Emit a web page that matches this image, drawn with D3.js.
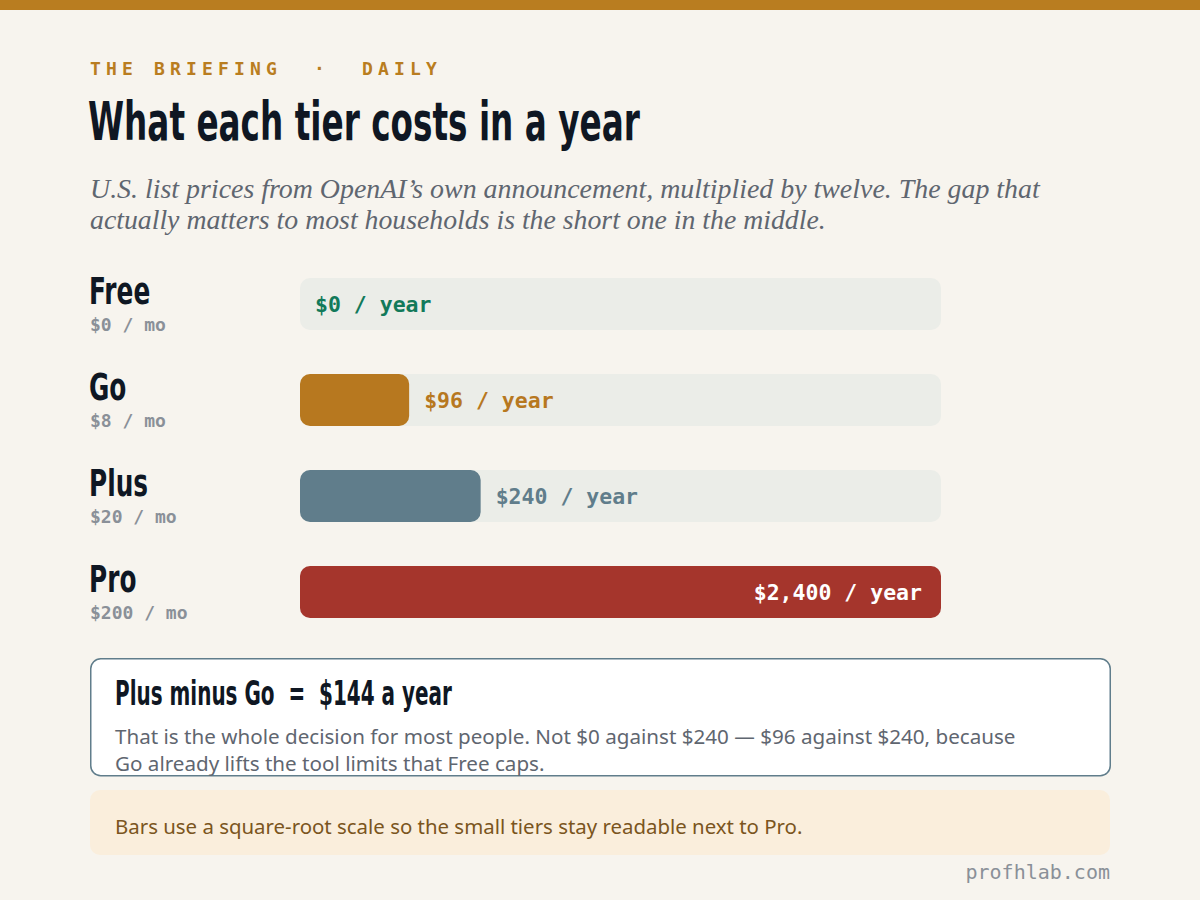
<!DOCTYPE html>
<html>
<head>
<meta charset="utf-8">
<script src="https://cdn.jsdelivr.net/npm/d3@7"></script>
<style>
  html, body { margin: 0; padding: 0; background: #f7f4ee; }
  svg { display: block; }
</style>
</head>
<body>
<svg id="chart" width="1200" height="900"></svg>
<script>
// ---------- data ----------
const tiers = ["Free", "Go", "Plus", "Pro"];
const monthlyPrice = [0, 8, 20, 200];
const annualPrice = [0, 96, 240, 2400];
const monthlyLabels = ["$0 / mo", "$8 / mo", "$20 / mo", "$200 / mo"];
const annualLabels = ["$0 / year", "$96 / year", "$240 / year", "$2,400 / year"];

const kicker = "THE BRIEFING  \u00B7  DAILY";
const title = "What each tier costs in a year";
const subtitleLines = [
  "U.S. list prices from OpenAI\u2019s own announcement, multiplied by twelve. The gap that",
  "actually matters to most households is the short one in the middle."
];
const calloutTitle = "Plus minus Go  =  $144 a year";
const calloutLines = [
  "That is the whole decision for most people. Not $0 against $240 \u2014 $96 against $240, because",
  "Go already lifts the tool limits that Free caps."
];
const noteText = "Bars use a square-root scale so the small tiers stay readable next to Pro.";
const footer = "profhlab.com";

// ---------- styles ----------
const barColor = { Free: "#127a5a", Go: "#b7781f", Plus: "#607d8b", Pro: "#a5352c" };
const labelColor = { Free: "#127a5a", Go: "#b7781f", Plus: "#607d8b", Pro: "#ffffff" };
const COND = "'DejaVu Sans', sans-serif";
const MONO = "'DejaVu Sans Mono', 'Liberation Mono', monospace";
const SERIF = "'Liberation Serif', 'DejaVu Serif', Georgia, serif";
const SANS = "'Noto Sans', 'Open Sans', sans-serif";

const svg = d3.select("#chart");

function fit(sel, w) {
  const n = sel.node();
  const cur = parseFloat(sel.attr("font-size"));
  const len = n.getComputedTextLength();
  if (len > 0) sel.attr("font-size", (cur * w / len).toFixed(2));
  return sel;
}
// condensed heading text: render bold and squeeze horizontally
function condText(parent, x, y, size, txt, sx) {
  const g = parent.append("g").attr("transform", `translate(${x},${y})`);
  const t = g.append("text").attr("font-family", COND).attr("font-weight", "bold")
    .attr("font-size", size).attr("fill", "#0f1723").style("white-space", "pre").text(txt);
  g.attr("transform", `translate(${x},${y}) scale(${sx},1)`);
  return { g, t };
}
function condFit(parent, x, y, size, txt, w) {
  const r = condText(parent, x, y, size, txt, 1);
  const len = r.t.node().getComputedTextLength();
  r.g.attr("transform", `translate(${x},${y}) scale(${w / len},1)`);
  return r;
}

// background + top bar
svg.append("rect").attr("width", 1200).attr("height", 900).attr("fill", "#f7f4ee");
svg.append("rect").attr("width", 1200).attr("height", 10).attr("fill", "#b97d20");

// kicker
svg.append("text").attr("x", 90).attr("y", 75)
  .attr("font-family", MONO).attr("font-weight", "bold").attr("font-size", 18)
  .attr("letter-spacing", 5.16).attr("fill", "#b97d20")
  .style("white-space", "pre").text(kicker);

// title
condFit(svg, 88, 140, 54, title, 552);

// subtitle
subtitleLines.forEach((t, i) => {
  const s = svg.append("text").attr("x", 90).attr("y", 198 + i * 31)
    .attr("font-family", SERIF).attr("font-style", "italic").attr("font-size", 24)
    .attr("fill", "#5f6670").text(t);
  if (i === 0) fit(s, 950);
  else fit(s, 736);
});

// ---------- bars ----------
const trackX = 300, trackW = 641;
const y = d3.scaleBand().domain(tiers).range([278, 618]).paddingInner(44 / 96).paddingOuter(0);
const x = d3.scalePow().exponent(0.55).domain([0, d3.max(annualPrice)]).range([0, trackW]);

const rows = svg.append("g").selectAll("g").data(tiers).join("g")
  .attr("transform", d => `translate(0,${y(d)})`);

rows.each(function(d) {
  condText(d3.select(this), 89, 26, 37, d, 0.67);
});

rows.append("text").attr("x", 90).attr("y", 53)
  .attr("font-family", MONO).attr("font-weight", "bold").attr("font-size", 18)
  .attr("fill", "#8a9098").text((d, i) => monthlyLabels[i]);

rows.append("rect").attr("x", trackX).attr("y", 0)
  .attr("width", trackW).attr("height", y.bandwidth())
  .attr("rx", 10).attr("fill", "#ebede8");

rows.append("rect").attr("x", trackX).attr("y", 0)
  .attr("width", (d, i) => x(annualPrice[i])).attr("height", y.bandwidth())
  .attr("rx", 10).attr("fill", d => barColor[d])
  .attr("display", (d, i) => annualPrice[i] > 0 ? null : "none");

rows.append("text")
  .attr("x", (d, i) => i === tiers.length - 1 ? trackX + x(annualPrice[i]) - 19 : trackX + x(annualPrice[i]) + 15)
  .attr("text-anchor", (d, i) => i === tiers.length - 1 ? "end" : "start")
  .attr("y", y.bandwidth() / 2 + 7.5)
  .attr("font-family", MONO).attr("font-weight", "bold").attr("font-size", 21.5)
  .attr("fill", d => labelColor[d]).style("white-space", "pre")
  .text((d, i) => annualLabels[i]);

// ---------- callout ----------
svg.append("rect").attr("x", 90.75).attr("y", 658.75).attr("width", 1019.5).attr("height", 117)
  .attr("rx", 10).attr("fill", "#ffffff").attr("stroke", "#607d8b").attr("stroke-width", 1.5);
condFit(svg, 115, 705, 33, calloutTitle, 337);
let bodySize = 20;
calloutLines.forEach((t, i) => {
  const s = svg.append("text").attr("x", 115).attr("y", 744 + i * 27)
    .attr("font-family", SANS).attr("font-size", bodySize).attr("fill", "#5f6670").text(t);
  if (i === 0) { fit(s, 901); bodySize = s.attr("font-size"); }
});

// ---------- note ----------
svg.append("rect").attr("x", 90).attr("y", 790).attr("width", 1020).attr("height", 65)
  .attr("rx", 10).attr("fill", "#faeedc");
fit(svg.append("text").attr("x", 115).attr("y", 834)
  .attr("font-family", SANS).attr("font-size", 20).attr("fill", "#7a5520").text(noteText), 688);

// footer
svg.append("text").attr("x", 1110).attr("y", 879).attr("text-anchor", "end")
  .attr("font-family", MONO).attr("font-size", 20).attr("fill", "#8a9098").text(footer);
</script>
</body>
</html>
